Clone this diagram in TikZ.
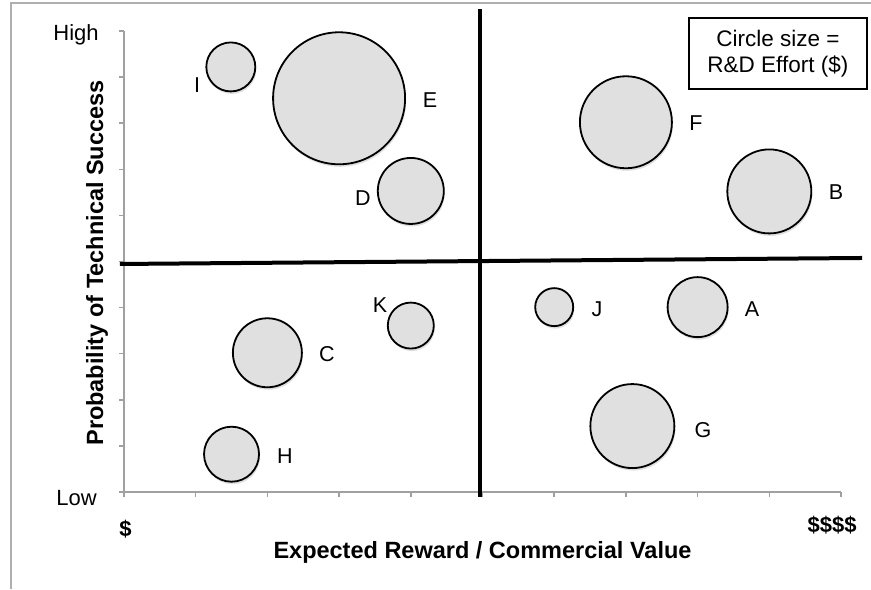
\documentclass[tikz,border=0pt]{standalone}
\usepackage{fontspec}
\setmainfont{Liberation Sans}
\usetikzlibrary{shadows}

\definecolor{bubblefill}{RGB}{224,224,224}
\definecolor{axisgray}{RGB}{160,160,160}
\definecolor{framegray}{RGB}{175,175,175}

\tikzset{
	bubble/.style={circle, draw=black, line width=1.8pt, fill=bubblefill, inner sep=0pt, minimum size=#1,
		drop shadow={shadow xshift=1pt, shadow yshift=-2.5pt, opacity=0.25}},
	bubblelabel/.style={anchor=base, font=\fontsize{21.5}{25}\selectfont},
	ticklabel/.style={anchor=base, font=\fontsize{22}{26}\selectfont},
	axistitle/.style={font=\fontsize{23.5}{27}\selectfont\bfseries},
	axisline/.style={draw=axisgray, line width=1.5pt},
	divider/.style={black, line width=4pt},
	legendbox/.style={draw=black, line width=1.5pt, align=center, minimum width=178pt, minimum height=71pt,
		font=\fontsize{22.5}{25.7}\selectfont}
}

\begin{document}
\begin{tikzpicture}[x=71.7pt, y=46.1pt]
	\useasboundingbox (-1.729,-2.104) rectangle (10.418,10.672);
	% frame
	\draw [framegray, line width=1.5pt] (-1.576,-2.104) -- (-1.576,10.607) -- (10.418,10.607);

	% axes
	\coordinate (origin) at (0,0);
	\coordinate (ytop) at (0,10);
	\coordinate (xend) at (10,0);
	\draw [axisline] (ytop) -- (origin) -- (xend);
	\foreach \i in {0,...,10}{
		\draw [axisline] (0,\i) -- ++(-5pt,0);
		\draw [axisline] (\i,0) -- ++(0,-5pt);
	}

	% quadrants
	\coordinate (vtop) at (4.965,10.477);
	\coordinate (vbot) at (4.965,-0.108);
	\coordinate (hleft) at (-0.056,4.946);
	\coordinate (hright) at (10.293,5.076);
	\draw [divider] (vtop) -- (vbot);
	\draw [divider] (hleft) -- (hright);

	% bubbles
	\node [bubble=49pt] (I) at (1.49,9.22){};
	\node [bubble=132pt] (E) at (3.0,8.54){};
	\node [bubble=66pt] (D) at (4.0,6.53){};
	\node [bubble=92pt] (F) at (7.0,8.02){};
	\node [bubble=84pt] (B) at (9.0,6.52){};
	\node [bubble=69pt] (C) at (2.0,3.02){};
	\node [bubble=46pt] (K) at (4.0,3.61){};
	\node [bubble=55pt] (H) at (1.5,0.82){};
	\node [bubble=38pt] (J) at (6.0,4.01){};
	\node [bubble=60pt] (A) at (8.0,4.01){};
	\node [bubble=84pt] (G) at (7.09,1.43){};

	% label
	\node [bubblelabel] (Ilabel) at (1.02,8.655){I};
	\node [bubblelabel] (Elabel) at (4.268,8.346){E};
	\node [bubblelabel] (Dlabel) at (3.333,6.21){D};
	\node [bubblelabel] (Flabel) at (7.978,7.831){F};
	\node [bubblelabel] (Blabel) at (9.93,6.334){B};
	\node [bubblelabel] (Klabel) at (3.57,3.898){K};
	\node [bubblelabel] (Clabel) at (2.831,2.82){C};
	\node [bubblelabel] (Hlabel) at (2.245,0.622){H};
	\node [bubblelabel] (Jlabel) at (6.597,3.803){J};
	\node [bubblelabel] (Alabel) at (8.759,3.803){A};
	\node [bubblelabel] (Glabel) at (8.075,1.193){G};

	% ticks and titles
	\node [ticklabel] (high) at (-0.669,9.783){High};
	\node [ticklabel] (low) at (-0.662,-0.282){Low};
	\node [ticklabel, font=\fontsize{22}{26}\selectfont\bfseries] (lowvalue) at (0.02,-0.965){\$};
	\node [ticklabel, font=\fontsize{22}{26}\selectfont\bfseries] (highvalue) at (9.875,-0.889){\$\$\$\$};
	\node [axistitle, anchor=base] (xtitle) at (5.0,-1.453){Expected Reward / Commercial Value};
	\node [axistitle, rotate=90] (ytitle) at (-0.377,4.967){Probability of Technical Success};

	% legend
	\node [legendbox] (legend) at (9.12,9.51){Circle size =\\R\&D Effort (\$)};
\end{tikzpicture}
\end{document}
